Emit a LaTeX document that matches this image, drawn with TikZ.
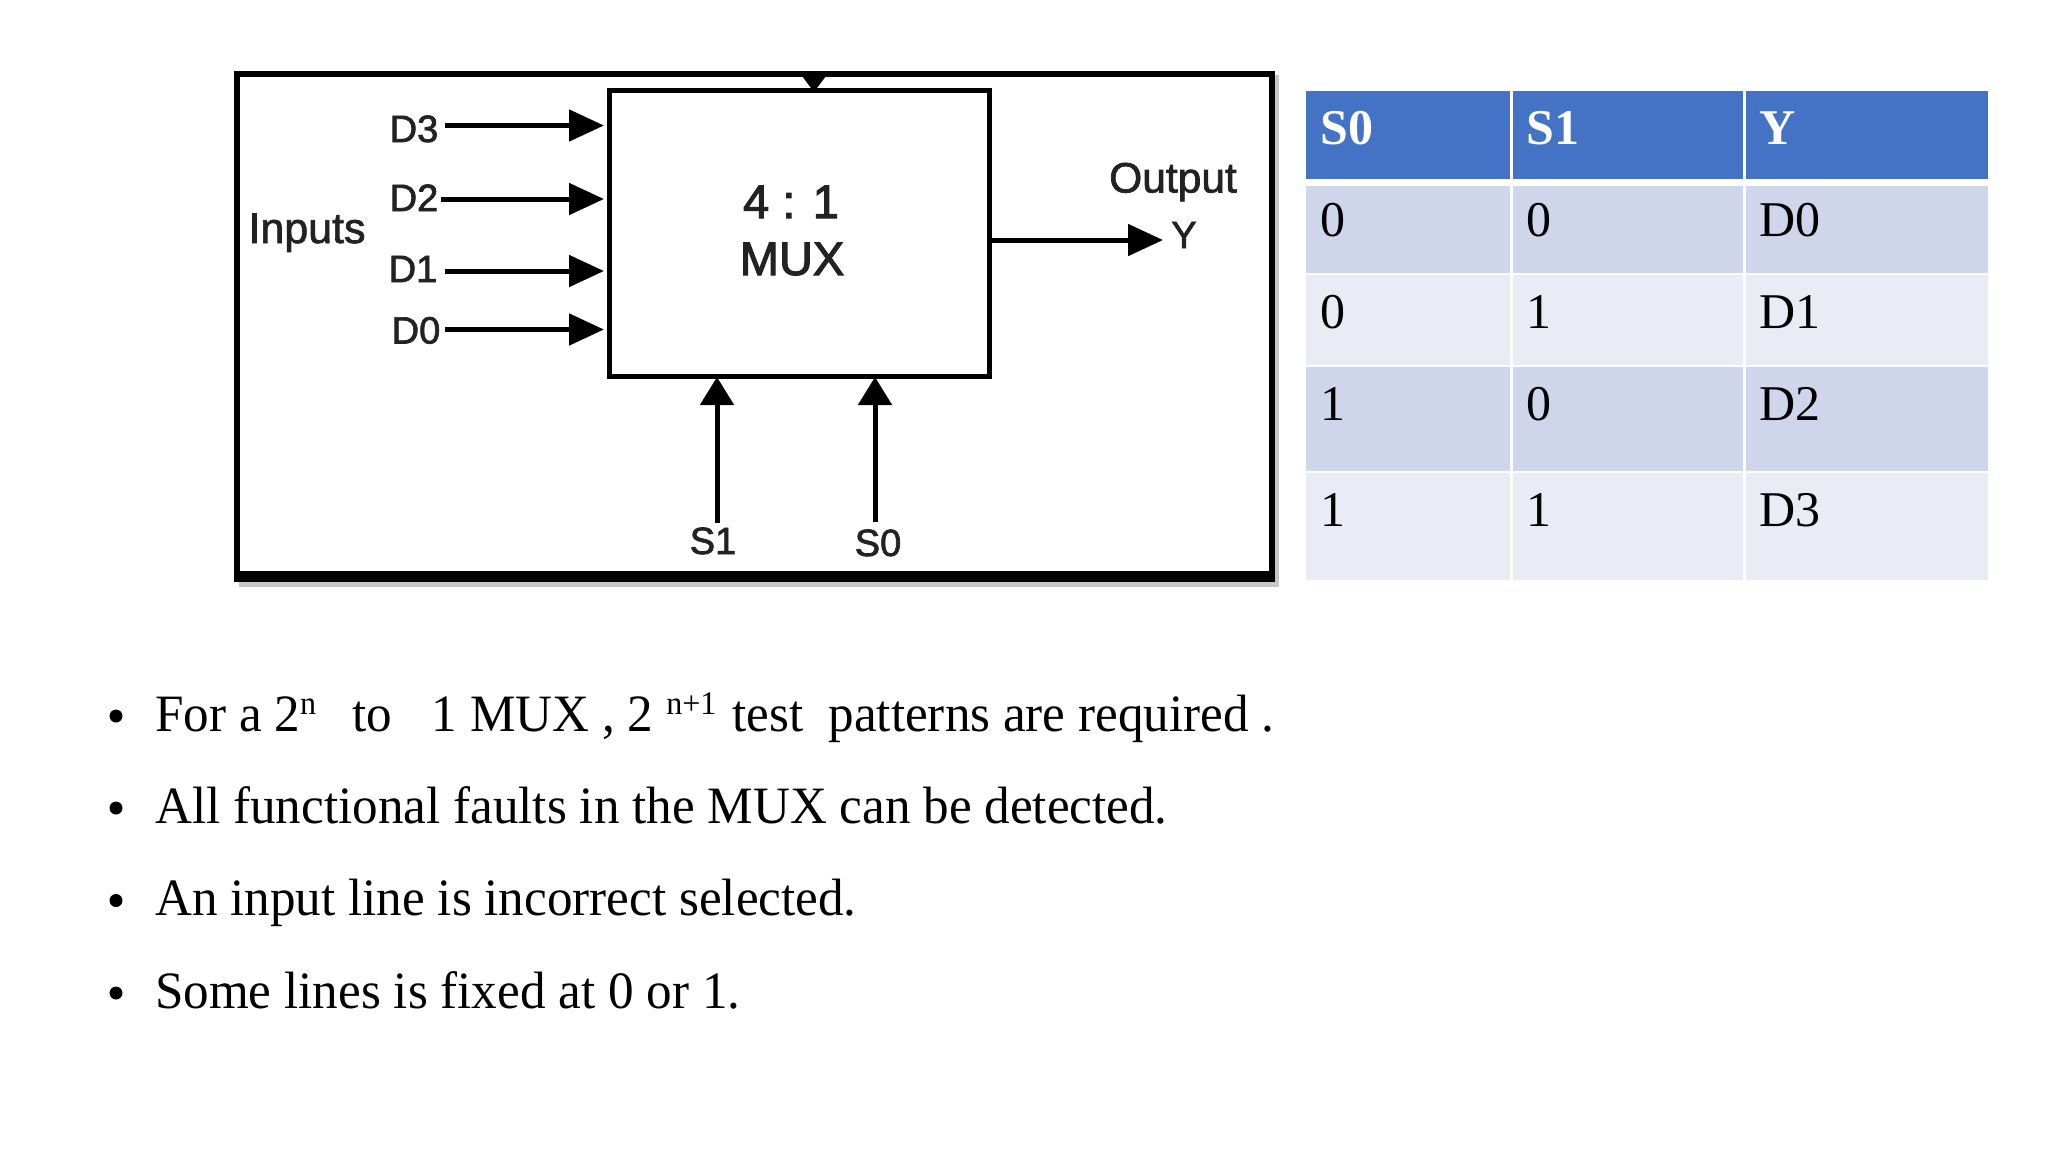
\documentclass[tikz,border=0pt]{standalone}
\usepackage{fontspec}
\setmainfont{Liberation Serif}
\newfontfamily\lab{Liberation Sans}
\usetikzlibrary{arrows.meta}
\definecolor{hdr}{HTML}{4472C4}
\definecolor{rowa}{HTML}{CFD5EA}
\definecolor{rowb}{HTML}{E9EBF5}
\definecolor{ink}{HTML}{222222}
\newcommand{\fsz}[1]{\fontsize{#1}{#1}\selectfont}
\newcommand{\emb}[2]{\special{pdf:code q 2 Tr #1 w}#2\special{pdf:code Q}}
\newcommand{\cond}[1]{\scalebox{0.974}[1]{#1}}
\tikzset{
  x=1pt,y=-1pt,
  sig/.style={line width=5pt,draw=black,-{Triangle[length=35pt,width=31pt]},shorten >=5pt},
  sigv/.style={line width=5pt,draw=black,-{Triangle[length=28pt,width=33pt]},shorten >=1pt},
  lbl/.style={anchor=base,inner sep=0pt,text=ink,font={\lab\fsz{38}}},
  big/.style={anchor=base,inner sep=0pt,text=ink,font={\lab\fsz{47}}},
  cell/.style={anchor=base west,inner sep=0pt,text=black,font=\fsz{50}},
  head/.style={anchor=base west,inner sep=0pt,text=white,font={\fsz{50}\bfseries}},
  bul/.style={anchor=base west,inner sep=0pt,text=black,font={\fsz{52.5}\frenchspacing}},
  dot/.style={circle,fill=black,inner sep=0pt,minimum size=13pt},
  muxbox/.style={rectangle,draw=black,line width=5pt,inner sep=0pt,outer sep=0pt,minimum width=380pt,minimum height=286pt}
}
\begin{document}
\begin{tikzpicture}
\useasboundingbox (0,0) rectangle (2048,1152);
% frame
\fill[black!22] (239,75) rectangle (1279,587);
\fill[black] (234,71) rectangle (1275,582);
\fill[white] (240,77) rectangle (1269,571);
% mux
\node[muxbox] (mux) at (799,233) {};
\node[big] (four) at (791,218) {\emb{1.1}{4 : 1}};
\node[big] (muxt) at (792,275) {\emb{1.1}{MUX}};
% top head
\fill[black] (802,76) -- (826,76) -- (814,92) -- cycle;
% inputs
\node[lbl,font={\lab\fsz{43}}] (inp) at (307,243) {\emb{0.7}{Inputs}};
\node[lbl] (d3) at (414,142) {\emb{0.7}{D3}};
\node[lbl] (d2) at (414,211) {\emb{0.7}{D2}};
\node[lbl] (d1) at (413,282) {\emb{0.7}{D1}};
\node[lbl] (d0) at (416,343.5) {\emb{0.7}{D0}};
\coordinate (d3s) at (445,125.5);
\coordinate (d2s) at (441,199);
\coordinate (d1s) at (445,271);
\coordinate (d0s) at (445,329.5);
\draw[sig] (d3s) -- (d3s -| mux.west);
\draw[sig] (d2s) -- (d2s -| mux.west);
\draw[sig] (d1s) -- (d1s -| mux.west);
\draw[sig] (d0s) -- (d0s -| mux.west);
% selects
\node[lbl] (s1) at (713,554) {\emb{0.7}{S1}};
\node[lbl] (s0) at (878,556) {\emb{0.7}{S0}};
\coordinate (s1s) at (717,523);
\coordinate (s0s) at (875,522);
\draw[sigv] (s1s) -- (s1s |- mux.south);
\draw[sigv] (s0s) -- (s0s |- mux.south);
% output
\node[lbl,font={\lab\fsz{42.5}}] (outl) at (1173,192.5) {\emb{0.7}{Output}};
\node[lbl] (y) at (1184,248) {\emb{0.7}{Y}};
\coordinate (ys) at (mux.east |- 0,240);
\coordinate (ye) at (1168,240);
\draw[sig] (ys) -- (ye);
% table
\fill[hdr] (1306,91) rectangle (1510,179);
\fill[hdr] (1513,91) rectangle (1743,179);
\fill[hdr] (1746,91) rectangle (1988,179);
\foreach \t/\b/\c in {185.5/273/rowa,275/365/rowb,367/471/rowa,473/580/rowb}{
  \fill[\c] (1306,\t) rectangle (1510,\b);
  \fill[\c] (1513,\t) rectangle (1743,\b);
  \fill[\c] (1746,\t) rectangle (1988,\b);
}
\node[head] (h0) at (1320,144) {S0};
\node[head] (h1) at (1526,144) {S1};
\node[head] (h2) at (1759,144) {Y};
\node[cell] (a0) at (1320,236) {0};
\node[cell] (b0) at (1526,236) {0};
\node[cell] (c0) at (1759,236) {D0};
\node[cell] (a1) at (1320,328) {0};
\node[cell] (b1) at (1526,328) {1};
\node[cell] (c1) at (1759,328) {D1};
\node[cell] (a2) at (1320,420) {1};
\node[cell] (b2) at (1526,420) {0};
\node[cell] (c2) at (1759,420) {D2};
\node[cell] (a3) at (1320,526) {1};
\node[cell] (b3) at (1526,526) {1};
\node[cell] (c3) at (1759,526) {D3};
% bullets
\node[dot] (p1) at (116,716) {};
\node[dot] (p2) at (116,808) {};
\node[dot] (p3) at (116,900.5) {};
\node[dot] (p4) at (116,993) {};
\node[bul] (t1) at (155,731) {\cond{For a 2\raisebox{17pt}{\fsz{33}n}\hspace{37pt}to\hspace{41pt}1 MUX , 2 \raisebox{17pt}{\fsz{33}n+1}\hspace{3pt} test\hspace{26pt}patterns are required .}};
\node[bul] (t2) at (155,823.5) {\cond{All functional faults in the MUX can be detected.}};
\node[bul] (t3) at (155,915.5) {\cond{An input line is incorrect selected.}};
\node[bul] (t4) at (155,1008) {\cond{Some lines is fixed at 0 or 1.}};
\end{tikzpicture}
\end{document}
